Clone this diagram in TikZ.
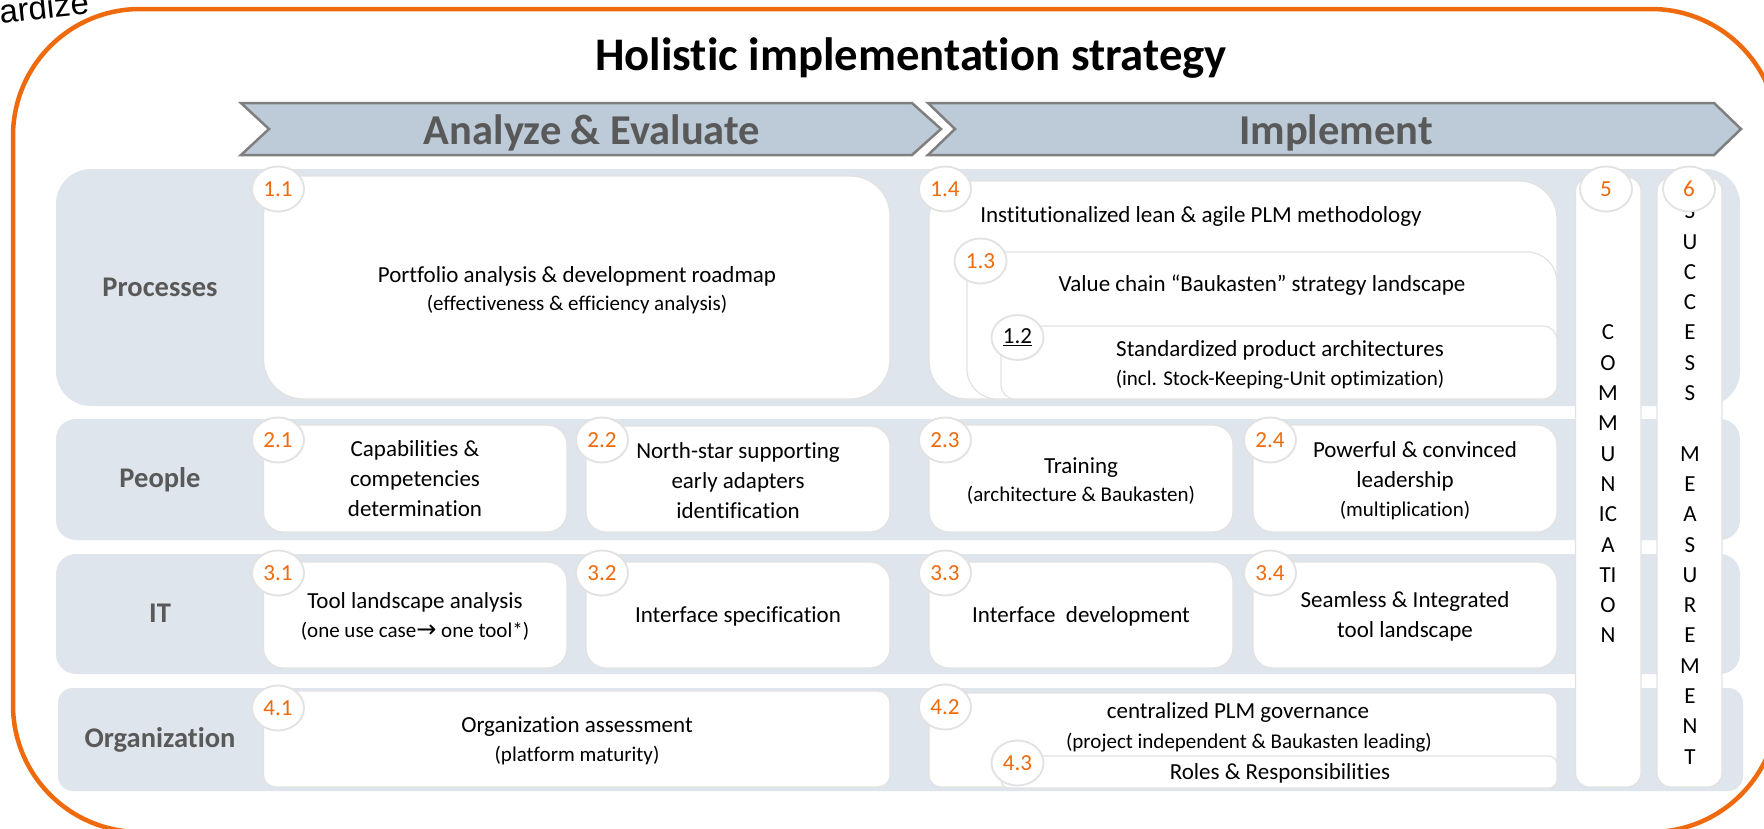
\documentclass[tikz,border=0pt]{standalone}
\usepackage{fontspec}
\setmainfont[Ligatures=NoCommon]{Carlito}
\newfontfamily\ardfont{Liberation Sans}
\newfontfamily\symfont{DejaVu Sans}
\usetikzlibrary{shapes.geometric}
\definecolor{orangeline}{HTML}{EE6A0C}
\definecolor{bandfill}{HTML}{DFE5EC}
\definecolor{chevfill}{HTML}{BCCBD7}
\definecolor{chevline}{HTML}{7F7F7F}
\definecolor{darkgrey}{HTML}{595959}
\definecolor{boxline}{HTML}{E2E2E2}
\tikzstyle{band}=[fill=bandfill, draw=none]
\tikzstyle{wbox}=[fill=white, draw=boxline, line width=1.2pt]
\tikzstyle{chev}=[fill=chevfill, draw=chevline, line width=2.5pt, miter limit=10]
\tikzstyle{badge}=[ellipse, draw=boxline, fill=white, line width=1.8pt, minimum width=52pt, minimum height=45pt, inner sep=0pt, text=orangeline, font=\fontsize{23}{23}\selectfont]
\tikzstyle{main}=[align=center, font=\fontsize{23}{30}\selectfont]
\tikzstyle{sub}=[align=center, font=\fontsize{21}{28}\selectfont]
\tikzstyle{rowlab}=[text=darkgrey, font=\fontsize{28.5}{30}\selectfont\bfseries]
\tikzstyle{phase}=[text=darkgrey, font=\fontsize{42.5}{44}\selectfont\bfseries]
\tikzstyle{vert}=[align=center, font=\fontsize{23}{30.3}\selectfont]

\begin{document}
\begin{tikzpicture}[x=1pt, y=-1pt]

\clip (0,0) rectangle (1764,828);
\fill[white] (0,0) rectangle (1764,828);

% frame and heading
\draw[orangeline, line width=4.5pt, rounded corners=127pt] (13,9) rectangle (1778,832);
\node[rotate=6, font=\ardfont\fontsize{33}{33}\selectfont] (cut) at (44,7) {ardize};
\node[font=\fontsize{46.7}{50}\selectfont\bfseries] (title) at (911,58) {Holistic implementation strategy};

\draw[chev] (241,103) -- (912,103) -- (941,129) -- (912,155) -- (241,155) -- (269,129) -- cycle;
\draw[chev] (928,103) -- (1714,103) -- (1741,129) -- (1714,155) -- (928,155) -- (955,129) -- cycle;
\node[phase] (analyze) at (592,133) {Analyze \& Evaluate};
\node[phase] (implement) at (1336,133) {Implement};

% bands
\fill[band, rounded corners=35pt] (56,169) rectangle (1740,406);
\fill[band, rounded corners=20pt] (56,419) rectangle (1740,540);
\fill[band, rounded corners=20pt] (56,554) rectangle (1740,674);
\fill[band, rounded corners=15pt] (58,688) rectangle (1743,791);

\node[rowlab] (processes) at (160,287) {Processes};
\node[rowlab] (people) at (160,480) {People};
\node[rowlab] (it) at (160,613) {IT};
\node[rowlab] (organization) at (160,740) {Organization};

% processes
\draw[wbox, rounded corners=40pt] (263.5,176) rectangle (890,399);
\draw[wbox, rounded corners=38pt] (929,181) rectangle (1557,399);
\draw[wbox, rounded corners=30pt] (967,252) rectangle (1557,399);
\draw[wbox, rounded corners=14pt] (1001,326) rectangle (1557,399);

\node[main] (t11) at (577,276) {Portfolio analysis \& development roadmap};
\node[sub] (t11b) at (577,305) {(effectiveness \& efficiency analysis)};
\node[main] (t14) at (1201,216) {Institutionalized lean \& agile PLM methodology};
\node[main] (t13) at (1262,285) {Value chain “Baukasten” strategy landscape};
\node[main] (t12) at (1280,350) {Standardized product architectures};
\node[sub] (t12b) at (1280,380) {(incl. Stock-Keeping-Unit optimization)};

% people
\draw[wbox, rounded corners=20pt] (263.5,425) rectangle (567,532);
\draw[wbox, rounded corners=20pt] (586,426) rectangle (890,532);
\draw[wbox, rounded corners=20pt] (929,425) rectangle (1233,532);
\draw[wbox, rounded corners=20pt] (1253,425) rectangle (1557,532);

\node[main] (t21) at (415,479) {Capabilities \&\\competencies\\determination};
\node[main] (t22) at (738,481) {North-star supporting\\early adapters\\identification};
\node[main] (t23) at (1081,468) {Training};
\node[sub] (t23b) at (1081,495) {(architecture \& Baukasten)};
\node[main] (t24) at (1415,450) {Powerful \& convinced};
\node[main] (t24b) at (1405,481) {leadership};
\node[sub] (t24c) at (1405,511) {(multiplication)};

% it
\draw[wbox, rounded corners=20pt] (263.5,562) rectangle (567,668);
\draw[wbox, rounded corners=20pt] (586,562) rectangle (890,668);
\draw[wbox, rounded corners=20pt] (929,562) rectangle (1233,668);
\draw[wbox, rounded corners=20pt] (1253,562) rectangle (1557,668);

\node[main] (t31) at (415,602) {Tool landscape analysis};
\node[sub] (t31b) at (415,631) {(one use case{\symfont\fontsize{24}{24}\selectfont→} one tool*)};
\node[main] (t32) at (738,616) {Interface specification};
\node[main] (t33) at (1081,616) {Interface\ \ development};
\node[main] (t34) at (1405,616) {Seamless \& Integrated\\tool landscape};

% organization
\draw[wbox, rounded corners=12pt] (263.5,691) rectangle (890,787);
\draw[wbox, rounded corners=12pt] (929,693) rectangle (1557,787);
\draw[wbox, rounded corners=8pt] (1001,756) rectangle (1557,788);

\node[main] (t41) at (577,727) {Organization assessment};
\node[sub] (t41b) at (577,755) {(platform maturity)};
\node[main] (t42) at (1238,712) {centralized PLM governance};
\node[sub] (t42b) at (1249,743) {(project independent \& Baukasten leading)};
\node[main] (t43) at (1280,773) {Roles \& Responsibilities};

% columns
\draw[wbox, rounded corners=14pt] (1575.5,177) rectangle (1641,787);
\draw[wbox, rounded corners=14pt] (1657,177) rectangle (1722,787);
\node[vert] (comm) at (1608,484) {C\\O\\M\\M\\U\\N\\IC\\A\\TI\\O\\N};
\node[vert] (succ) at (1690,484) {S\\U\\C\\C\\E\\S\\S\\~\\M\\E\\A\\S\\U\\R\\E\\M\\E\\N\\T};

% badges
\node[badge] (b11) at (278,189) {1.1};
\node[badge] (b14) at (945,189) {1.4};
\node[badge] (b13) at (980.5,261) {1.3};
\node[badge, text=black] (b12) at (1017.5,337.5) {\underline{1.2}};
\node[badge] (b21) at (278,440) {2.1};
\node[badge] (b22) at (602,440) {2.2};
\node[badge] (b23) at (945,440) {2.3};
\node[badge] (b24) at (1270,440) {2.4};
\node[badge] (b31) at (278,573) {3.1};
\node[badge] (b32) at (602,573) {3.2};
\node[badge] (b33) at (945,573) {3.3};
\node[badge] (b34) at (1270,573) {3.4};
\node[badge] (b41) at (278,708) {4.1};
\node[badge] (b42) at (945,707) {4.2};
\node[badge] (b43) at (1017.5,763) {4.3};
\node[badge] (b5) at (1606,189) {5};
\node[badge] (b6) at (1689,189) {6};

\end{tikzpicture}
\end{document}
